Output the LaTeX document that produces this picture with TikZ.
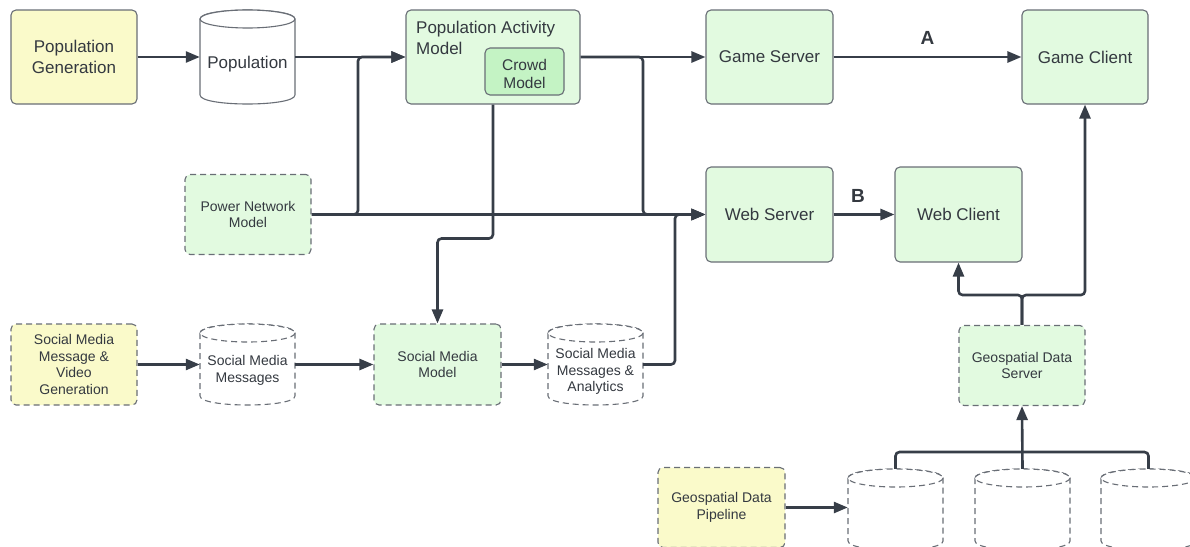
\documentclass[tikz,border=0pt]{standalone}
\usepackage{fontspec}
\setmainfont{Liberation Sans}
\usetikzlibrary{arrows.meta}
\definecolor{txt}{RGB}{52,57,64}
\definecolor{bord}{RGB}{105,110,118}
\definecolor{lnc}{RGB}{55,62,72}
\definecolor{yel}{RGB}{250,250,202}
\definecolor{grn}{RGB}{226,250,224}
\definecolor{crowdg}{RGB}{196,243,196}
\newcommand\cylsh[5]{%
  \path[#5] (#1,#3+9) -- (#1,#4-9) .. controls (#1,#4+3) and (#2,#4+3) .. (#2,#4-9) -- (#2,#3+9) .. controls (#2,#3-3) and (#1,#3-3) .. cycle;
  \path[#5] ({(#1+#2)/2},#3+9) ellipse [x radius={(#2-#1)/2}, y radius=9];
}
\begin{document}
\begin{tikzpicture}[x=1pt,y=-1pt,
  box/.style={draw=bord, line width=1.1pt, rounded corners=5pt, inner sep=0pt, align=center, text=txt, font=\fontsize{17}{21}\selectfont},
  dbox/.style={box, dash pattern=on 6pt off 4pt, font=\fontsize{14}{16.7}\selectfont},
  cylbox/.style={inner sep=0pt},
  bigl/.style={text=txt, font=\fontsize{17}{21}\selectfont, align=center, inner sep=0pt},
  smalll/.style={text=txt, font=\fontsize{14}{16.7}\selectfont, align=center, inner sep=0pt},
  cylsolid/.style={draw=bord, line width=1.1pt, fill=white},
  cyldash/.style={draw=bord, line width=1.1pt, fill=white, dash pattern=on 6pt off 4pt},
  conn/.style={draw=lnc, line width=2.6pt, rounded corners=4pt},
  arr/.style={conn, -{Triangle[length=14pt 0, width=11pt 0]}},
  ablbl/.style={text=txt, font=\fontsize{19}{22}\selectfont\bfseries, inner sep=0pt}
]
\useasboundingbox (0,0) rectangle (1190,546);
\clip (0,0) rectangle (1190,546);

% cylinder shapes
\cylsh{200}{295}{10}{104}{cylsolid}
\cylsh{200}{295}{324}{405}{cyldash}
\cylsh{548}{643}{324}{405}{cyldash}
\cylsh{848}{943}{469}{550}{cyldash}
\cylsh{975}{1070}{469}{550}{cyldash}
\cylsh{1101}{1196}{469}{550}{cyldash}

% nodes
\node[box, fill=yel, minimum width=126pt, minimum height=94pt] (popgen) at (74,57) {Population\\Generation};
\node[cylbox, minimum width=95pt, minimum height=94pt, label={[bigl, yshift=-7pt]center:Population}] (pop) at (247.5,57) {};
\node[box, fill=grn, minimum width=174pt, minimum height=94pt] (pam) at (493,57) {};
\node[bigl, anchor=north west, align=left] (pamt) at (416,20.5) {Population Activity\\Model};
\node[box, fill=crowdg, minimum width=79pt, minimum height=47pt, label={[text=txt, font=\fontsize{15.5}{18.5}\selectfont, align=center, inner sep=0pt, yshift=-2.5pt]center:Crowd\\Model}] (crowd) at (524.5,71.5) {};
\node[box, fill=grn, minimum width=127pt, minimum height=94pt] (gs) at (769.5,57) {Game Server};
\node[box, fill=grn, minimum width=126pt, minimum height=94pt] (gc) at (1085,57) {Game Client};

\node[dbox, fill=grn, minimum width=126pt, minimum height=80pt] (pnm) at (248,214.5) {Power Network\\Model};
\node[box, fill=grn, minimum width=127pt, minimum height=95pt] (web) at (769.5,214.5) {Web Server};
\node[box, fill=grn, minimum width=127pt, minimum height=95pt] (wc) at (958.5,214.5) {Web Client};

\node[dbox, fill=yel, minimum width=126pt, minimum height=81pt] (smgen) at (74,364.5) {Social Media\\Message \&\\Video\\Generation};
\node[cylbox, minimum width=95pt, minimum height=81pt, label={[smalll, yshift=-6pt]center:Social Media\\Messages}] (smmsg) at (247.5,364.5) {};
\node[dbox, fill=grn, minimum width=127pt, minimum height=81pt] (smm) at (437.5,364.5) {Social Media\\Model};
\node[cylbox, minimum width=95pt, minimum height=81pt, label={[smalll, yshift=-7pt]center:Social Media\\Messages \&\\Analytics}] (sma) at (595.5,364.5) {};
\node[dbox, fill=grn, minimum width=126pt, minimum height=80pt] (gds) at (1022,365.5) {Geospatial Data\\Server};

\node[dbox, fill=yel, minimum width=127pt, minimum height=80pt] (gpipe) at (721.5,507.5) {Geospatial Data\\Pipeline};
\node[cylbox, minimum width=95pt, minimum height=81pt] (geo1) at (895.5,509.5) {};
\node[cylbox, minimum width=95pt, minimum height=81pt] (geo2) at (1022.5,509.5) {};
\node[cylbox, minimum width=95pt, minimum height=81pt] (geo3) at (1148.5,509.5) {};

% junction coordinates
\coordinate (j1) at (358,57);
\coordinate (j2) at (643,57);
\coordinate (c1) at (493,238.5);
\coordinate (j3) at (675,364.5);
\coordinate (g1) at (1022,295);
\coordinate (g2) at (1022,452);

% connectors
\draw[arr] (popgen.east) -- (pop.west);
\draw[arr] (pop.east) -- (pam.west);
\draw[arr] (pnm.east) -| (j1) -- (pam.west);
\draw[arr] (pnm.east) -- (web.west);
\draw[arr] (pam.east) -- (gs.west);
\draw[arr] (pam.east) -- (j2) |- (web.west);
\draw[arr] (gs.east) -- node[ablbl, above=11pt] (lA) {A} (gc.west);
\draw[arr] (web.east) -- node[ablbl, pos=0.4, above=10.5pt] (lB) {B} (wc.west);
\draw[arr] (pam.south -| c1) -- (c1) -| (smm.north);
\draw[arr] (smgen.east) -- (smmsg.west);
\draw[arr] (smmsg.east) -- (smm.west);
\draw[arr] (smm.east) -- (sma.west);
\draw[arr] (sma.east) -- (j3) |- (web.west);
\draw[arr] (gds.north) -- (g1) -| (wc.south);
\draw[arr] (gds.north) -- (g1) -| (gc.south);
\draw[arr] (gpipe.east) -- (gpipe.east -| geo1.west);
\draw[conn] (geo1.north) |- (g2);
\draw[conn] (geo3.north) |- (g2);
\draw[arr] (geo2.north) -- (gds.south);
\end{tikzpicture}
\end{document}
